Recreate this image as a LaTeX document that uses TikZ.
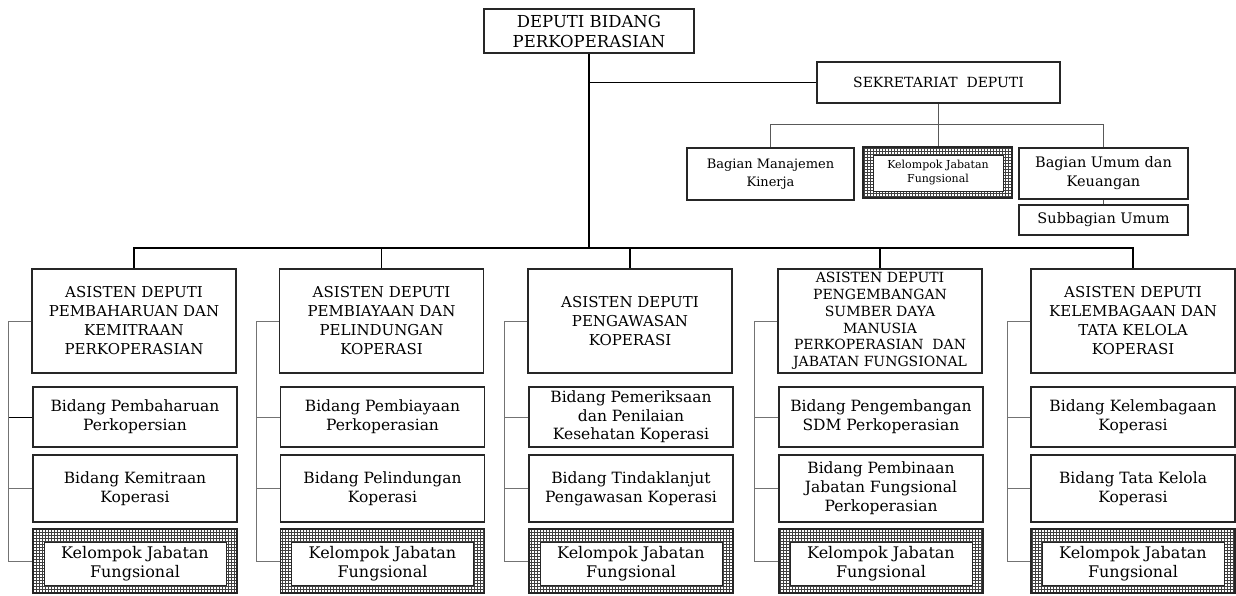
\documentclass[tikz,border=0pt]{standalone}
\usepackage{fontspec}
\setmainfont{DejaVu Serif}
\usetikzlibrary{positioning, patterns}

\tikzset{
  unitbox/.style={draw=black!85, line width=1.2pt, fill=white, align=center,
    inner sep=2pt, font=\fontsize{15}{19}\selectfont},
  bidbox/.style={unitbox, minimum width=204, font=\fontsize{15.5}{19}\selectfont},
  kjfouter/.style={draw=black!85, line width=1.2pt, pattern=grid, pattern color=black!75},
  kjfinner/.style={draw=black!85, line width=1pt, fill=white, align=center,
    inner sep=0pt, font=\fontsize{16}{19}\selectfont},
  trunk/.style={draw=black, line width=1.1pt},
  branch/.style={draw=black!65, line width=0.9pt},
  sideline/.style={draw=black!55, line width=0.8pt}
}

\begin{document}
\begin{tikzpicture}[x=1pt, y=-1pt] % 1pt = 1px of the page

\useasboundingbox (0,0) rectangle (1236,595);

% pimpinan dan sekretariat
\node[unitbox, minimum width=210, minimum height=44, inner sep=0pt, font=\fontsize{16.5}{20}\selectfont] (dep) at (589,31) {DEPUTI BIDANG\\PERKOPERASIAN};
\node[unitbox, minimum width=243, minimum height=41, font=\fontsize{14}{18}\selectfont] (sek) at (938.5,82.5) {SEKRETARIAT\ \ DEPUTI};
\node[unitbox, minimum width=167, minimum height=52, font=\fontsize{13}{18}\selectfont] (bmk) at (770.5,174) {Bagian Manajemen\\Kinerja};
\node[kjfouter, minimum width=149, minimum height=51] (skjf) at (937.5,172.5) {};
\node[kjfinner, minimum width=130, minimum height=36, font=\fontsize{11}{14}\selectfont] (skjft) at (938,173) {Kelompok Jabatan\\Fungsional};
\node[unitbox, minimum width=169, minimum height=51, font=\fontsize{14.5}{19}\selectfont] (buk) at (1103.5,173.5) {Bagian Umum dan\\Keuangan};
\node[unitbox, minimum width=169, minimum height=30, inner sep=0pt, font=\fontsize{14.5}{19}\selectfont] (sbu) at (1103.5,220) {Subbagian Umum};

\coordinate (bus) at (589,248);
\coordinate (sbus) at (938.5,124);

% asisten deputi
\node[unitbox, minimum width=204, minimum height=104] (ad1) at (134,321) {ASISTEN DEPUTI\\PEMBAHARUAN DAN\\KEMITRAAN\\PERKOPERASIAN};
\node[unitbox, minimum width=204, minimum height=104] (ad2) at (381.5,321) {ASISTEN DEPUTI\\PEMBIAYAAN DAN\\PELINDUNGAN\\KOPERASI};
\node[unitbox, minimum width=204, minimum height=104] (ad3) at (630,321) {ASISTEN DEPUTI\\PENGAWASAN\\KOPERASI};
\node[unitbox, minimum width=204, minimum height=104, inner sep=0pt, font=\fontsize{14}{16.8}\selectfont] (ad4) at (880,321) {ASISTEN DEPUTI\\PENGEMBANGAN\\SUMBER DAYA\\MANUSIA\\PERKOPERASIAN\ \ DAN\\JABATAN FUNGSIONAL};
\node[unitbox, minimum width=204, minimum height=104] (ad5) at (1133,321) {ASISTEN DEPUTI\\KELEMBAGAAN DAN\\TATA KELOLA\\KOPERASI};

% bidang
\node[bidbox, minimum height=60] (bA1) at (135,417) {Bidang Pembaharuan\\Perkopersian};
\node[bidbox, minimum height=67] (bB1) at (135,488.5) {Bidang Kemitraan\\Koperasi};
\node[bidbox, minimum height=60] (bA2) at (382.5,417) {Bidang Pembiayaan\\Perkoperasian};
\node[bidbox, minimum height=67] (bB2) at (382.5,488.5) {Bidang Pelindungan\\Koperasi};
\node[bidbox, minimum height=60, inner sep=0pt, font=\fontsize{15.5}{18.5}\selectfont] (bA3) at (631,417) {Bidang Pemeriksaan\\dan Penilaian\\Kesehatan Koperasi};
\node[bidbox, minimum height=67] (bB3) at (631,488.5) {Bidang Tindaklanjut\\Pengawasan Koperasi};
\node[bidbox, minimum height=60] (bA4) at (881,417) {Bidang Pengembangan\\SDM Perkoperasian};
\node[bidbox, minimum height=67, inner sep=0pt] (bB4) at (881,488.5) {Bidang Pembinaan\\Jabatan Fungsional\\Perkoperasian};
\node[bidbox, minimum height=60] (bA5) at (1133,417) {Bidang Kelembagaan\\Koperasi};
\node[bidbox, minimum height=67] (bB5) at (1133,488.5) {Bidang Tata Kelola\\Koperasi};

% kelompok jabatan fungsional
\foreach \i/\x in {1/135, 2/382.5, 3/631, 4/881, 5/1133} {
  \node[kjfouter, minimum width=204, minimum height=64] (kjf\i) at (\x,561) {};
  \node[kjfinner, minimum width=182, minimum height=43] (kjf\i t) at (\x,563.5) {Kelompok Jabatan\\Fungsional};
}

% garis
\draw[trunk] (dep.south) -- (bus);
\draw[trunk] (dep.south |- sek.west) -- (sek.west);
\foreach \i in {1,...,5}
  \draw[trunk] (bus) -| (ad\i.north);
\draw[branch] (sek.south) -- (sbus);
\draw[branch] (sbus) -- (sbus |- skjf.north);
\draw[branch] (sbus) -| (bmk.north);
\draw[branch] (sbus) -| (buk.north);
\draw[branch] (buk.south) -- (sbu.north);
\foreach \i in {1,...,5} {
  \draw[sideline] (ad\i.west) -- ++(-23,0) |- (kjf\i.west);
  \draw[sideline] (bA\i.west) -- ++(-23,0);
  \draw[sideline] (bB\i.west) -- ++(-23,0);
}
\draw[trunk, line width=0.9pt] (bA1.west) -- ++(-23,0);

\end{tikzpicture}
\end{document}
